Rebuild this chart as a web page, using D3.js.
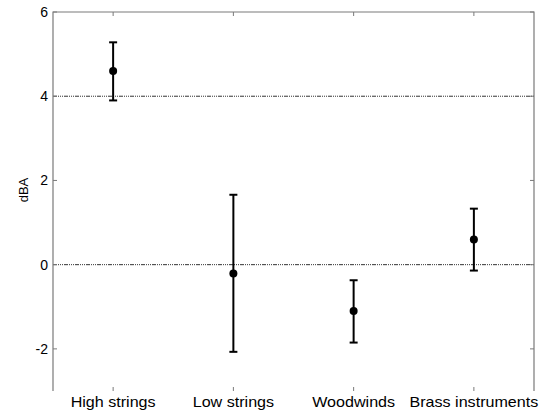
<!DOCTYPE html>
<html>
<head>
<meta charset="utf-8">
<script src="https://cdn.jsdelivr.net/npm/d3@7"></script>
<style>
  body { margin: 0; background: #fff; }
  text { font-family: "Liberation Sans", Arial, sans-serif; fill: #000; }
</style>
</head>
<body>
<div id="chart"></div>
<script>
// Data
const categories = ["High strings", "Low strings", "Woodwinds", "Brass instruments"];
const means = [4.6, -0.21, -1.1, 0.6];
const upper = [5.28, 1.66, -0.37, 1.33];
const lower = [3.9, -2.07, -1.85, -0.14];
const yTicks = [-2, 0, 2, 4, 6];
const refLines = [0, 4];

const width = 547, height = 411;
const margin = { top: 12, right: 13, bottom: 20, left: 53 };

const svg = d3.select("#chart")
    .append("svg")
    .attr("width", width)
    .attr("height", height);

// Scales
const x = d3.scaleLinear()
    .domain([0.5, categories.length + 0.5])
    .range([margin.left, width - margin.right]);
const y = d3.scaleLinear()
    .domain([-3, 6])
    .range([height - margin.bottom, margin.top]);

const x0 = margin.left, x1 = width - margin.right;
const y0 = height - margin.bottom, y1 = margin.top;

// Reference lines (fine dotted)
svg.append("g")
    .selectAll("line")
    .data(refLines)
    .enter()
    .append("line")
    .attr("x1", x0).attr("x2", x1)
    .attr("y1", d => y(d)).attr("y2", d => y(d))
    .attr("stroke", "#333")
    .attr("stroke-width", 1)
    .attr("stroke-dasharray", "4,1,1,1,1,1,1,1");

// Axis frame (left, top, right)
const axisColor = "#7a7a7a";
svg.append("path")
    .attr("d", `M${x0},${y0}V${y1}H${x1}V${y0}`)
    .attr("fill", "none")
    .attr("stroke", axisColor)
    .attr("stroke-width", 1.2);

// Y ticks (inward on both sides) and labels
const yg = svg.append("g");
yg.selectAll("line.l")
    .data(yTicks)
    .enter()
    .append("line")
    .attr("class", "l")
    .attr("x1", x0).attr("x2", x0 + 4)
    .attr("y1", d => y(d)).attr("y2", d => y(d))
    .attr("stroke", axisColor);
yg.selectAll("line.r")
    .data(yTicks)
    .enter()
    .append("line")
    .attr("class", "r")
    .attr("x1", x1 - 4).attr("x2", x1)
    .attr("y1", d => y(d)).attr("y2", d => y(d))
    .attr("stroke", axisColor);
yg.selectAll("text")
    .data(yTicks)
    .enter()
    .append("text")
    .attr("x", x0 - 5)
    .attr("y", d => y(d))
    .attr("dy", "0.36em")
    .attr("text-anchor", "end")
    .attr("font-size", "14px")
    .text(d => d);

// X ticks (top and bottom, inward) and labels
const idx = d3.range(categories.length);
const xg = svg.append("g");
xg.selectAll("line.t")
    .data(idx)
    .enter()
    .append("line")
    .attr("class", "t")
    .attr("x1", i => x(i + 1)).attr("x2", i => x(i + 1))
    .attr("y1", y1).attr("y2", y1 + 4)
    .attr("stroke", axisColor);
xg.selectAll("line.b")
    .data(idx)
    .enter()
    .append("line")
    .attr("class", "b")
    .attr("x1", i => x(i + 1)).attr("x2", i => x(i + 1))
    .attr("y1", y0 - 4).attr("y2", y0)
    .attr("stroke", axisColor);
xg.selectAll("text")
    .data(categories)
    .enter()
    .append("text")
    .attr("transform", (d, i) => `translate(${x(i + 1)},${y0 + 16}) scale(1.15,1)`)
    .attr("text-anchor", "middle")
    .attr("font-size", "14px")
    .text(d => d);

// Y axis title
svg.append("text")
    .attr("transform", `translate(28,190) rotate(-90)`)
    .attr("text-anchor", "middle")
    .attr("font-size", "13px")
    .text("dBA");

// Error bars
const eb = svg.append("g")
    .selectAll("g")
    .data(idx)
    .enter()
    .append("g");

eb.append("line")
    .attr("x1", i => x(i + 1)).attr("x2", i => x(i + 1))
    .attr("y1", i => y(upper[i])).attr("y2", i => y(lower[i]))
    .attr("stroke", "#000")
    .attr("stroke-width", 2);
eb.append("line")
    .attr("x1", i => x(i + 1) - 4).attr("x2", i => x(i + 1) + 4)
    .attr("y1", i => y(upper[i])).attr("y2", i => y(upper[i]))
    .attr("stroke", "#000")
    .attr("stroke-width", 2);
eb.append("line")
    .attr("x1", i => x(i + 1) - 4).attr("x2", i => x(i + 1) + 4)
    .attr("y1", i => y(lower[i])).attr("y2", i => y(lower[i]))
    .attr("stroke", "#000")
    .attr("stroke-width", 2);
eb.append("circle")
    .attr("cx", i => x(i + 1))
    .attr("cy", i => y(means[i]))
    .attr("r", 4)
    .attr("fill", "#000");
</script>
</body>
</html>
